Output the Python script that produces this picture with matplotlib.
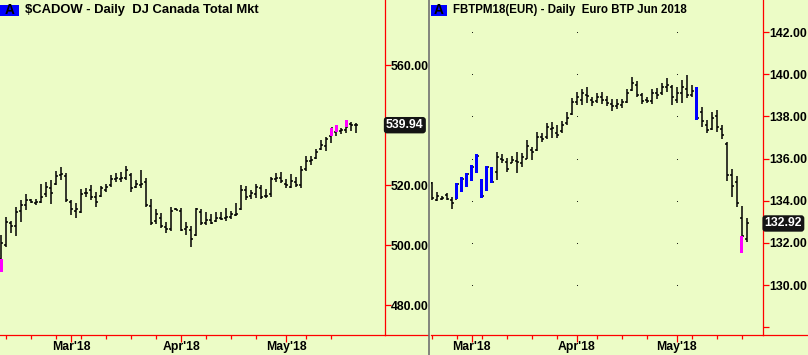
"""
Two daily OHLC bar charts side by side: $CADOW and FBTPM18
"""

import numpy as np
import matplotlib.pyplot as plt
from matplotlib.lines import Line2D
from matplotlib.patches import Rectangle
from matplotlib.transforms import blended_transform_factory

plt.rcParams["font.family"] = ["Liberation Sans", "DejaVu Sans"]

# ---- left panel: $CADOW (daily bars, index 0 = Feb 9 2018) ----
cad_high = [503.3, 509.4, 508.0, 512.8, 515.0, 516.9, 515.3, 515.2, 520.5, 521.1,
            521.7, 524.7, 525.9, 523.9, 515.0, 513.9, 518.6, 518.9, 520.0, 517.8,
            519.7, 520.5, 523.3, 523.9, 524.4, 526.3, 523.9, 521.7, 525.0, 522.2,
            515.2, 511.9, 510.6, 507.8, 512.8, 512.2, 512.2, 507.8, 506.3, 512.5,
            512.0, 511.1, 510.3, 511.1, 510.9, 512.2, 511.4, 513.9, 520.0, 519.7,
            518.3, 520.3, 520.0, 518.6, 522.8, 523.9, 524.4, 521.9, 523.7, 522.8,
            526.3, 529.7, 529.8, 531.9, 535.0, 536.1, 539.1, 540.0, 538.9, 541.7,
            541.1, 540.6]
cad_low = [491.1, 499.4, 503.9, 503.0, 507.8, 511.7, 514.1, 513.3, 513.9, 516.1,
           513.6, 520.0, 521.7, 514.4, 510.0, 508.9, 510.6, 516.1, 515.0, 512.8,
           516.1, 517.8, 519.4, 521.1, 521.1, 521.7, 517.6, 518.9, 518.9, 512.8,
           506.7, 507.0, 505.6, 504.1, 504.7, 511.7, 504.7, 503.3, 499.4, 503.1,
           506.7, 506.7, 506.9, 507.6, 508.3, 508.1, 508.6, 509.7, 511.7, 515.0,
           515.2, 515.6, 515.2, 515.6, 515.9, 521.1, 520.6, 518.9, 518.9, 519.2,
           518.9, 524.8, 526.7, 528.6, 531.7, 531.4, 533.9, 536.3, 537.0, 537.4,
           538.1, 537.4]
cad_open = [495.5, 500.0, 507.2, 506.4, 511.5, 513.5, 515.0, 514.0, 514.5, 517.0,
            519.0, 520.5, 523.5, 523.0, 514.5, 511.5, 511.0, 517.5, 518.5, 516.0,
            516.5, 518.5, 520.0, 522.0, 522.0, 522.5, 523.5, 519.5, 520.0, 521.0,
            513.0, 508.0, 509.0, 506.0, 505.5, 512.0, 511.5, 505.5, 505.0, 503.5,
            511.0, 507.5, 508.5, 508.0, 509.0, 509.0, 509.5, 510.0, 512.0, 518.5,
            516.5, 517.0, 519.0, 516.5, 517.0, 522.0, 522.5, 520.5, 519.5, 521.0,
            520.0, 525.5, 528.0, 529.0, 532.0, 533.0, 536.4, 537.8, 538.0, 538.5,
            540.5, 540.0]
cad_close = [500.8, 507.8, 506.4, 511.1, 513.5, 515.0, 514.5, 514.3, 516.0, 519.5,
             517.5, 523.0, 523.8, 515.0, 512.0, 512.0, 517.0, 517.5, 516.0, 514.5,
             519.0, 519.5, 522.0, 522.5, 522.5, 525.0, 519.0, 520.5, 520.5, 513.5,
             507.5, 510.5, 506.5, 505.5, 511.5, 511.8, 505.0, 506.0, 502.0, 512.0,
             507.5, 508.5, 507.5, 509.0, 508.8, 509.5, 510.5, 510.5, 518.5, 516.0,
             517.5, 519.5, 516.0, 516.5, 522.0, 522.5, 521.5, 520.0, 521.5, 520.0,
             525.0, 528.0, 528.5, 531.0, 533.5, 535.5, 539.0, 538.0, 538.5, 539.5,
             540.0, 539.94]
# painted bars (index, top, bottom)
cad_paint_idx = [0, 66, 67, 69]
cad_paint_top = [495.5, 539.1, 540.0, 541.7]
cad_paint_bot = [491.1, 536.4, 537.8, 539.4]
cad_month_pos = [14, 36, 57]
cad_week_pos = [1, 6, 11, 16, 21, 26, 31, 41, 46, 51, 61, 66]
cad_yticks = [480, 500, 520, 560]
cad_last = 539.94

# ---- right panel: FBTPM18 (index 0 = Feb 19 2018) ----
btp_high = [134.90, 134.43, 134.22, 134.38, 134.19, 134.85, 135.11, 135.30, 135.69, 136.21,
            135.01, 135.64, 135.58, 136.32, 136.20, 136.04, 136.12, 136.32, 136.24, 136.88,
            136.53, 137.27, 137.19, 137.70, 137.75, 137.59, 137.79, 138.22, 138.85, 139.14,
            139.28, 139.41, 138.90, 139.12, 139.17, 138.96, 138.81, 138.81, 138.81, 139.28,
            139.88, 139.69, 139.12, 138.90, 139.30, 139.33, 139.57, 139.80, 139.49, 139.38,
            139.72, 139.96, 139.49, 139.41, 138.46, 137.83, 138.19, 138.30, 137.59, 136.80,
            135.49, 135.17, 133.75, 133.16]
btp_low = [134.03, 133.98, 134.03, 134.03, 133.59, 134.08, 134.43, 134.66, 134.95, 135.33,
           134.14, 134.47, 134.85, 134.98, 135.80, 135.37, 135.77, 135.33, 135.61, 135.96,
           135.93, 136.37, 136.80, 136.91, 136.96, 136.96, 137.22, 137.59, 138.06, 138.54,
           138.54, 138.65, 138.49, 138.65, 138.58, 138.49, 138.27, 138.33, 138.38, 138.65,
           139.22, 138.90, 138.58, 138.65, 138.60, 138.81, 139.01, 139.17, 138.54, 138.65,
           138.65, 138.85, 138.90, 137.83, 137.51, 137.19, 137.35, 137.27, 136.91, 134.95,
           134.19, 133.71, 131.53, 132.05]
btp_open = [134.85, 134.05, 134.10, 134.25, 134.05, 134.10, 134.50, 134.70, 135.00, 135.40,
            134.90, 134.50, 135.50, 135.35, 136.00, 135.85, 135.80, 135.90, 135.80, 136.00,
            136.40, 136.40, 137.00, 137.00, 137.40, 137.20, 137.30, 137.70, 138.10, 138.70,
            138.80, 139.00, 138.80, 138.75, 138.90, 138.80, 138.60, 138.50, 138.55, 138.70,
            139.25, 139.50, 139.00, 138.80, 138.75, 139.10, 139.10, 139.40, 139.40, 138.80,
            139.10, 139.30, 139.00, 139.30, 138.20, 137.60, 137.40, 138.00, 137.40, 136.70,
            135.20, 134.90, 133.20, 132.20]
btp_close = [134.15, 134.20, 134.15, 134.10, 133.90, 134.80, 135.05, 135.25, 135.60, 136.10,
             134.20, 135.60, 134.90, 136.05, 135.95, 135.50, 135.95, 135.85, 136.05, 136.60,
             136.30, 137.00, 136.95, 137.50, 137.45, 137.10, 137.60, 137.90, 138.70, 138.90,
             139.10, 138.95, 138.70, 138.90, 138.80, 138.65, 138.50, 138.60, 138.70, 139.10,
             139.60, 139.00, 138.75, 138.75, 139.10, 139.00, 139.40, 139.50, 138.90, 139.10,
             139.40, 139.00, 139.20, 137.90, 137.80, 137.35, 137.90, 137.50, 137.10, 135.20,
             134.70, 133.90, 132.32, 132.92]
btp_paint_idx = [5, 6, 7, 8, 9, 10, 11, 12, 53, 62]
btp_paint_top = [134.85, 135.11, 135.30, 135.69, 136.21, 135.01, 135.64, 135.58, 139.41, 132.32]
btp_paint_bot = [134.08, 134.43, 134.66, 134.95, 135.33, 134.14, 134.47, 134.85, 137.83, 131.53]
btp_paint_col = ["blue"] * 9 + ["magenta"]
btp_month_pos = [8, 29, 49]
btp_week_pos = [0, 5, 10, 15, 20, 25, 33, 38, 43, 52, 57, 62]
btp_yticks = [128, 130, 132, 134, 136, 138, 140, 142]
btp_last = 132.92

month_labels = ["Mar'18", "Apr'18", "May'18"]

BG = "#ecfcc6"
W, H = 808, 355
FONT = dict(fontsize=8.8, fontweight="bold")

fig = plt.figure(figsize=(W / 100, H / 100), dpi=100, facecolor=BG)


def px_axes(x0, x1, y0, y1):
    ax = fig.add_axes([x0 / W, 1 - y1 / H, (x1 - x0) / W, (y1 - y0) / H])
    ax.set_facecolor(BG)
    return ax


def fig_line(xs, ys, **kw):
    fig.add_artist(Line2D([x / W for x in xs], [1 - y / H for y in ys], **kw))


def draw_panel(ax, o, h, l, c, paint_idx, paint_top, paint_bot, paint_col,
               month_pos, week_pos, yticks, ylabels, last):
    x = np.arange(len(h))
    ax.vlines(x, l, h, color="black", lw=1.1)
    ax.hlines(o, x - 0.42, x, color="black", lw=1.1)
    ax.hlines(c, x, x + 0.42, color="black", lw=1.1)
    ax.bar(paint_idx, np.array(paint_top) - np.array(paint_bot),
           bottom=paint_bot, width=0.66, color=paint_col, zorder=3)

    for s in ["left", "top"]:
        ax.spines[s].set_visible(False)
    for s in ["right", "bottom"]:
        ax.spines[s].set_color("red")
        ax.spines[s].set_linewidth(0.9)

    ax.yaxis.tick_right()
    ax.set_yticks(yticks)
    ax.set_yticklabels(ylabels, **FONT)
    ax.tick_params(axis="y", color="red", length=4, width=0.9, pad=0.5)

    ax.set_xticks(month_pos)
    ax.set_xticklabels(month_labels, **FONT)
    ax.set_xticks(week_pos, minor=True)
    ax.tick_params(axis="x", which="major", color="red", length=5, width=0.9, pad=-0.5)
    ax.tick_params(axis="x", which="minor", color="red", length=3, width=0.9)

    tr = blended_transform_factory(ax.transAxes, ax.transData)
    ax.text(1.004, last, f"{last:.2f}", transform=tr, ha="left", va="center",
            color="white", clip_on=False, zorder=10, **FONT,
            bbox=dict(boxstyle="round,pad=0.18,rounding_size=0.25",
                      fc="#141414", ec="none"))


# left panel
axl = px_axes(0, 384.5, 0, 334.5)
draw_panel(axl, cad_open, cad_high, cad_low, cad_close,
           cad_paint_idx, cad_paint_top, cad_paint_bot, "magenta",
           cad_month_pos, cad_week_pos, cad_yticks,
           [f"{v:.2f}" for v in cad_yticks], cad_last)
axl.set_xlim(-0.26, 76.64)
axl.set_ylim(470.17, 581.67)

# right panel
axr = px_axes(431, 763.3, 0, 335)
draw_panel(axr, btp_open, btp_high, btp_low, btp_close,
           btp_paint_idx, btp_paint_top, btp_paint_bot, btp_paint_col,
           btp_month_pos, btp_week_pos, btp_yticks,
           ["" if v == 128 else f"{v:.2f}" for v in btp_yticks], btp_last)
axr.set_xlim(-0.14, 66.32)
axr.set_ylim(127.63, 143.52)

# dotted grid at month / price intersections
gx, gy = np.meshgrid(btp_month_pos, btp_yticks[1:])
axr.scatter(gx.ravel(), gy.ravel(), s=0.6, color="black", lw=0, zorder=1)

# red base lines running under the price scales
fig_line([384.5, 428], [334.5, 334.5], color="red", lw=0.9)
fig_line([763.3, 808], [335, 335], color="red", lw=0.9)

# separator between panels
fig_line([429, 429], [0, 355], color="#707070", lw=1.2)

# titles with the blue "A" badges
for bx, bw, tx, title, fs in [(0, 19, 25, "$CADOW - Daily  DJ Canada Total Mkt", 9.4),
                              (431, 16, 453, "FBTPM18(EUR) - Daily  Euro BTP Jun 2018", 8.3)]:
    fig.add_artist(Rectangle((bx / W, 1 - 15.5 / H), bw / W, 11 / H,
                             transform=fig.transFigure, fc="blue", ec="none"))
    fig.text((bx + bw / 2) / W, 1 - 10.5 / H, "A", ha="center", va="center",
             color="black", fontsize=9.8, fontweight="bold")
    fig.text(tx / W, 1 - 10.5 / H, title, ha="left", va="center",
             color="black", fontsize=fs, fontweight="bold")

fig.savefig("out.png", dpi=100, facecolor=BG)
